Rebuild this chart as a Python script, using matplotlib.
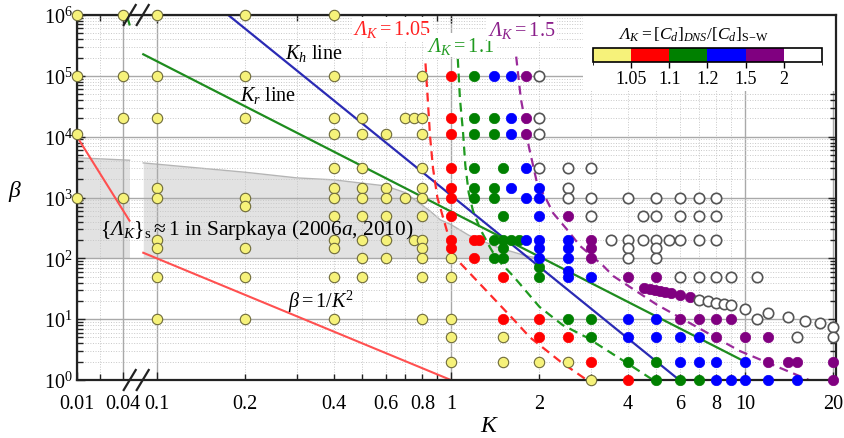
import numpy as np
import matplotlib
matplotlib.use("Agg")
import matplotlib.pyplot as plt
from matplotlib.colors import ListedColormap, BoundaryNorm
from matplotlib.cm import ScalarMappable
from matplotlib.patches import Rectangle
from matplotlib.ticker import FixedLocator, FixedFormatter

plt.rcParams["font.family"] = ["Liberation Serif", "DejaVu Serif"]
plt.rcParams["mathtext.fontset"] = "custom"
plt.rcParams["mathtext.rm"] = "Liberation Serif"
plt.rcParams["mathtext.it"] = "Liberation Serif:italic"
plt.rcParams["mathtext.bf"] = "Liberation Serif:bold"
# sf slot used for the italic capital Lambda (mathtext keeps Greek capitals upright otherwise)
plt.rcParams["mathtext.sf"] = "Liberation Serif:italic"
plt.rcParams["mathtext.fallback"] = "stix"
plt.rcParams["font.size"] = 14.5

LAM = r"\mathsf{\Lambda}"

# ---------------- simulation points (K, beta), by Lambda_K class ----------------
yellow_pts = [(0.01, 1e6), (0.04, 1e6), (0.1, 1e6), (0.2, 1e6), (0.4, 1e6),
              (0.01, 1e5), (0.04, 1e5), (0.1, 1e5), (0.2, 1e5), (0.4, 1e5), (0.8, 1e5),
              (0.04, 2e4), (0.1, 2e4), (0.2, 2e4), (0.4, 2e4), (0.5, 2e4), (0.7, 2e4), (0.75, 2e4), (0.8, 2e4),
              (0.01, 1.1e4), (0.4, 1.1e4), (0.5, 1.1e4), (0.6, 1.1e4), (0.8, 1.1e4),
              (0.4, 3e3), (0.5, 3e3), (0.8, 3e3),
              (0.1, 1.45e3), (0.4, 1.45e3), (0.5, 1.45e3), (0.6, 1.45e3), (0.8, 1.45e3),
              (0.01, 1e3), (0.04, 1e3), (0.1, 1e3), (0.2, 1e3), (0.4, 1e3), (0.5, 1e3), (0.6, 1e3),
              (0.7, 1e3), (0.8, 1e3),
              (0.2, 730),
              (0.4, 500), (0.5, 500), (0.6, 500), (0.8, 500),
              (0.1, 200), (0.4, 200), (0.5, 200), (0.6, 200), (0.75, 200), (0.8, 200),
              (0.1, 150), (0.2, 150), (0.4, 150), (0.8, 150),
              (0.5, 100), (0.6, 100), (0.8, 100), (1, 100),
              (0.1, 50), (0.2, 50), (0.4, 50), (0.5, 50), (0.8, 50), (1, 50),
              (0.1, 10), (0.2, 10), (0.4, 10), (0.8, 10), (1, 10),
              (1, 5), (1.5, 5),
              (1, 2), (1.5, 2), (2, 2), (2.5, 2),
              (3, 1)]

red_pts = [(1, 1e5), (1, 2e4), (1, 1.1e4), (1, 3e3), (1, 1.45e3), (1, 1e3), (1, 500),
           (1, 200), (1.2, 200), (1.25, 200), (1, 150), (1.2, 100),
           (1.5, 50), (1.5, 10), (2, 10), (2, 5), (2.5, 5), (3, 2), (4, 1)]

green_pts = [(1.2, 1e5), (1.2, 2e4), (1.4, 2e4), (1.2, 1.1e4), (1.4, 1.1e4), (1.2, 3e3), (1.5, 3e3),
             (1.2, 1.45e3), (1.4, 1.45e3), (1.2, 1e3), (1.4, 1e3), (1.5, 500),
             (1.4, 200), (1.5, 200), (1.6, 200), (1.7, 200), (1.5, 150), (1.4, 100), (1.5, 100),
             (2, 73), (2, 50), (2.5, 10), (3, 10), (3, 5), (4, 2), (5, 2), (5, 1), (6, 1), (7, 1)]

blue_pts = [(1.4, 1e5), (1.6, 1e5), (1.6, 2e4), (1.6, 1.1e4), (1.8, 3e3), (1.6, 1.45e3), (2, 1.45e3),
            (1.8, 1e3), (2, 1e3), (2, 500), (1.8, 200), (2, 200), (2.5, 200), (2, 150), (2.5, 150),
            (2, 100), (2.5, 100), (2.5, 63), (2.5, 50), (3, 50), (4, 10), (5, 10),
            (4, 5), (5, 5), (6, 5), (7, 5), (6, 2), (7, 2), (8, 2), (10, 2),
            (8, 1), (9, 1), (10, 1), (12, 1), (15, 1)]

purple_pts = [(1.8, 1e5), (1.8, 2e4), (1.8, 1.1e4), (2.5, 500), (3, 200), (3, 150), (3, 100),
              (4, 50), (5, 50),
              (4.55, 32.8), (4.75, 31.5), (4.95, 30), (5.15, 28.8), (5.35, 27.8), (5.6, 27),
              (6.0, 24.9), (6.5, 22.9),
              (6, 10), (7, 10), (8, 10), (9, 10), (8, 5), (10, 5), (12, 5),
              (12, 2), (14, 2), (15, 2), (20, 2), (20, 1)]

white_pts = [(2, 1e5), (2, 2e4), (2, 1.1e4), (2, 3e3), (2.5, 3e3), (3, 3e3), (2.5, 1.45e3),
             (2.5, 1e3), (3, 1e3), (4, 1e3), (5, 1e3), (6, 1e3), (7, 1e3), (8, 1e3),
             (3, 500), (4.5, 500), (5, 500), (6, 500), (7, 500), (8, 500),
             (3.5, 200), (4, 200), (4.5, 200), (5, 200), (5.5, 200), (6, 200), (7, 200), (8, 200),
             (4, 150), (5, 150), (4, 100), (5, 100),
             (6, 50), (7, 50), (8, 50), (9, 50), (11, 50),
             (7, 21), (7.5, 19.7), (8, 18.7), (8.5, 17.9), (9, 17), (10, 14.8), (11, 10),
             (12, 12.6), (14, 10.9), (16, 9.5), (18, 8.5), (20, 7.5),
             (15, 5), (20, 5)]

# ---------------- lines ----------------
kh_K, kh_beta = [0.175, 5.98], [1e6, 1.0]
kr_K, kr_beta = [0.09, 10.0], [2.26e5, 2.0]
kr_left_K, kr_left_beta = [0.0445, 0.049], [1.05e6, 7.0e5]
inv2_left_K, inv2_left_beta = [0.01, 0.049], [1e4, 416]
inv2_K, inv2_beta = [0.09, 1.0], [123.5, 1.0]

lam105_K = [0.82, 0.835, 0.85, 0.87, 0.90, 0.95, 0.99, 1.02, 1.19, 1.63, 1.86, 2.36, 2.9]
lam105_beta = [1.6e5, 4e4, 1e4, 3e3, 1e3, 400, 200, 110, 50, 10, 5, 2, 1.0]
lam11_K = [1.056, 1.074, 1.10, 1.12, 1.15, 1.19, 1.26, 1.36, 1.43, 1.63, 2.0, 2.4, 2.9, 3.97, 4.87]
lam11_beta = [1.9e5, 4.2e4, 1.2e4, 3.4e3, 1.2e3, 600, 300, 150, 100, 51, 16, 8, 5, 1.9, 1.0]
lam15_K = [1.668, 1.70, 1.73, 1.79, 1.84, 1.96, 2.12, 2.23, 2.48, 2.75, 3.3, 3.57, 5.0, 9.6, 16.5]
lam15_beta = [2.07e5, 9e4, 4.2e4, 1.76e4, 7e3, 1.8e3, 900, 550, 300, 160, 75, 51, 17.5, 3.0, 1.0]

# Sarpkaya region (lower edge beta = 100)
sarp_left_K, sarp_left_top = [0.01, 0.049], [4500, 4100]
sarp_K = [0.09, 0.2, 0.3, 0.4, 0.6, 0.7, 0.77, 0.85, 0.92, 1.0, 1.15, 1.45, 1.8, 2.0]
sarp_top = [3700, 2600, 2100, 1950, 1550, 1200, 850, 600, 430, 360, 240, 150, 110, 100]
sarp_low = 100

# colour bar classes
lam_bounds = [1.0, 1.05, 1.1, 1.2, 1.5, 2.0, 2.5]
lam_ticks = [1.05, 1.1, 1.2, 1.5, 2.0]
lam_ticklabels = ["1.05", "1.1", "1.2", "1.5", "2"]
lam_colors = ["#f6f27a", "#ff0000", "#008000", "#0000ff", "#800080", "#ffffff"]

# ---------------- broken log x axis ----------------
L1, L2 = np.log10(0.049), np.log10(0.0898)
A = 77 + 76 * (L1 + 2)
B = 156.7 + 294 * (L2 + 1)


def fwd(k):
    lk = np.log10(np.clip(np.asarray(k, float), 1e-9, None))
    return np.where(lk <= L1, 77 + 76 * (lk + 2),
                    np.where(lk >= L2, 156.7 + 294 * (lk + 1),
                             A + (lk - L1) * (B - A) / (L2 - L1)))


def inv(u):
    u = np.asarray(u, float)
    lk = np.where(u <= A, (u - 77) / 76 - 2,
                  np.where(u >= B, (u - 156.7) / 294 - 1,
                           L1 + (u - A) * (L2 - L1) / (B - A)))
    return 10 ** lk


fig = plt.figure(figsize=(8.45, 4.39), dpi=100)
ax = fig.add_axes([77 / 845, 58 / 439, 759 / 845, 365 / 439])
ax.set_xscale("function", functions=(fwd, inv))
ax.set_yscale("log")
ax.set_xlim(0.01, 20.4)
ax.set_ylim(1, 1e6)
ax.set_axisbelow(True)

ax.xaxis.set_major_locator(FixedLocator([0.01, 0.04, 0.1, 1, 10, 20]))
ax.xaxis.set_major_formatter(FixedFormatter(["0.01", "0.04", "0.1", "1", "10", "20"]))
minor_x = [0.02, 0.2, 0.3, 0.4, 0.5, 0.6, 0.7, 0.8, 0.9, 2, 3, 4, 5, 6, 7, 8, 9]
minor_lab = ["", "0.2", "", "0.4", "", "0.6", "", "0.8", "", "2", "", "4", "", "6", "", "8", ""]
ax.xaxis.set_minor_locator(FixedLocator(minor_x))
ax.xaxis.set_minor_formatter(FixedFormatter(minor_lab))

ax.tick_params(which="both", direction="in", top=True, right=True, width=1, color="#222222")
ax.tick_params(which="major", length=6)
ax.tick_params(which="minor", length=4)
ax.tick_params(axis="x", which="both", pad=10, labelsize=14.5)
ax.tick_params(axis="y", which="both", pad=3, labelsize=14.5)
for s in ax.spines.values():
    s.set_linewidth(1.6)
    s.set_color("#222222")

ax.grid(which="major", color="#a9a9a9", lw=1.0)
ax.grid(which="minor", color="#c8c8c8", lw=0.7, ls=":")

# Sarpkaya shaded region, drawn on both sides of the break
for kk, tt in ((sarp_left_K, sarp_left_top), (sarp_K, sarp_top)):
    ax.fill_between(kk, sarp_low, tt, color="#e2e2e2", lw=0, zorder=0.3)
    ax.plot(kk, tt, color="#b5b5b5", lw=1.0, zorder=0.35)

# white backing behind the colour bar
ax.add_patch(Rectangle((0.667, 0.792), 0.333, 0.208, transform=ax.transAxes,
                       facecolor="white", edgecolor="none", zorder=0.6))

# reference lines
ax.plot(kh_K, kh_beta, color="#2a2ab4", lw=1.6, zorder=2)
ax.plot(kr_K, kr_beta, color="#1e8c1e", lw=1.6, zorder=2)
ax.plot(kr_left_K, kr_left_beta, color="#1e8c1e", lw=1.6, zorder=2)
ax.plot(inv2_left_K, inv2_left_beta, color="#ff5050", lw=1.5, zorder=2)
ax.plot(inv2_K, inv2_beta, color="#ff5050", lw=1.5, zorder=2)

dash = (0, (4, 2.6))
ax.plot(lam105_K, lam105_beta, color="#ff2a2a", lw=1.6, ls=dash, zorder=2)
ax.plot(lam11_K, lam11_beta, color="#1f9a1f", lw=1.6, ls=dash, zorder=2)
ax.plot(lam15_K, lam15_beta, color="#9a2a9a", lw=1.6, ls=dash, zorder=2)

# simulation points
styles = [(yellow_pts, lam_colors[0], "#6f6b3a", 0.8),
          (red_pts, lam_colors[1], lam_colors[1], 0.5),
          (green_pts, lam_colors[2], lam_colors[2], 0.5),
          (blue_pts, lam_colors[3], lam_colors[3], 0.5),
          (purple_pts, lam_colors[4], lam_colors[4], 0.5),
          (white_pts, "white", "#555555", 1.2)]
for pts, fc, ec, lw in styles:
    k = [p[0] for p in pts]
    b = [p[1] for p in pts]
    ax.scatter(k, b, s=56, facecolor=fc, edgecolor=ec, linewidth=lw, zorder=3, clip_on=False)

# labels in the plot
box = dict(facecolor="white", edgecolor="none", pad=1)
ax.text(0.466, 4.85e5, rf"${LAM}_K = 1.05$", color="#ff2020", fontsize=14.5, bbox=box, zorder=4)
ax.text(0.831, 2.57e5, rf"${LAM}_K = 1.1$", color="#1f9a1f", fontsize=14.5, bbox=box, zorder=4)
ax.text(1.34, 4.73e5, rf"${LAM}_K = 1.5$", color="#8a1e8a", fontsize=14.5, bbox=box, zorder=4)
ax.text(0.273, 1.95e5, r"$K_h$ line", fontsize=14.5, zorder=4)
ax.text(0.192, 3.98e4, r"$K_r$ line", fontsize=14.5, zorder=4)
ax.text(0.0201, 249, rf"$\{{{LAM}_K\}}_\mathrm{{s}} \approx 1$ in Sarpkaya (2006$a$, 2010)",
        fontsize=15.4, zorder=4)
ax.text(0.28, 16.1, r"$\beta = 1/K^2$", fontsize=14.5, zorder=4)

fig.text(15 / 845, 1 - 192 / 439, r"$\beta$", fontsize=17, ha="center", va="center")
fig.text(490 / 845, 1 - 427 / 439, r"$K$", fontsize=17, ha="center", va="center")

# axis-break marks
gap = (0.5 * (A + B) - 77) / 759
for y0 in (0.0, 1.0):
    for dx in (-6.5, 6.5):
        xs = [gap + (dx - 6) / 759, gap + (dx + 6) / 759]
        ys = [y0 - 10 / 365, y0 + 10 / 365]
        ax.plot(xs, ys, color="#222222", lw=1.6, transform=ax.transAxes, clip_on=False, zorder=5)

# colour bar
cax = fig.add_axes([593 / 845, 1 - 63 / 439, 229 / 845, 14 / 439])
cmap = ListedColormap(lam_colors)
norm = BoundaryNorm(lam_bounds, cmap.N)
cb = fig.colorbar(ScalarMappable(norm=norm, cmap=cmap), cax=cax, orientation="horizontal",
                  spacing="uniform", ticks=lam_ticks)
cb.set_ticklabels(lam_ticklabels)
cb.outline.set_linewidth(1.2)
cax.tick_params(length=4, width=1, labelsize=13, pad=2)
cax.text(0.44, 1.35, rf"${LAM}_K = [C_d]_{{DNS}}/[C_d]_{{\mathrm{{S\!-\!W}}}}$", fontsize=12.5,
         ha="center", va="bottom", transform=cax.transAxes)

fig.savefig("out.png", dpi=100)
